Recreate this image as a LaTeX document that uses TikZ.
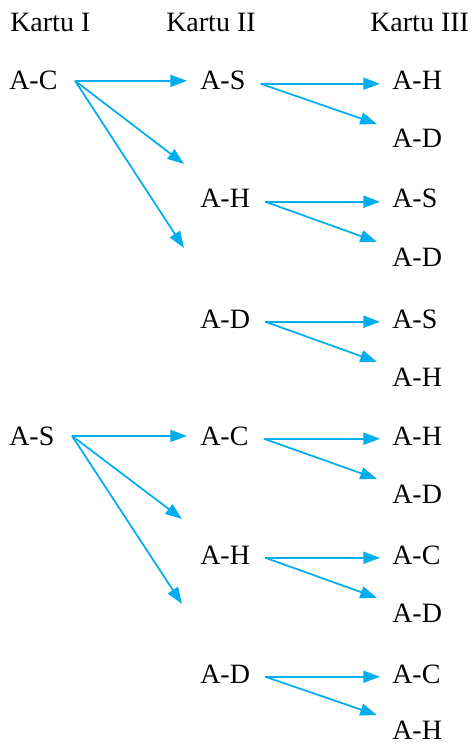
\documentclass[tikz,border=0pt]{standalone}
\usepackage{fontspec}
\setmainfont{Liberation Serif}
\newfontfamily\cardfont{Liberation Serif}
\usetikzlibrary{arrows.meta}
\definecolor{kartublue}{RGB}{0,174,239}

\begin{document}
\begin{tikzpicture}[x=0.75pt, y=-0.75pt, >={Triangle[length=12.5pt,width=9pt]}]
% --- Global Styles ---
\tikzstyle{card} = [anchor=base west, inner sep=0pt, font=\cardfont\fontsize{21}{25}\selectfont]
\tikzstyle{cardlow} = [card, text depth=4.5pt]
\tikzstyle{branch} = [->, kartublue, line width=1.3pt]

\useasboundingbox (0,0) rectangle (475,745);

% --- Column X-coordinates ---
\def\xa{9}     % Kartu I
\def\xb{200}   % Kartu II
\def\xc{392}   % Kartu III

% ==========================================
% HEADERS
% ==========================================
\node[card] (h1) at (10,32) {Kartu I};
\node[card] (h2) at (166,32) {Kartu II};
\node[card] (h3) at (370,32) {Kartu III};

% ==========================================
% KARTU I
% ==========================================
\node[card] (a1) at (\xa,90) {A-C};
\node[card] (a2) at (\xa,445) {A-S};

% ==========================================
% KARTU II
% ==========================================
\node[cardlow] (b1) at (\xb,90) {A-S};
\node[cardlow] (b2) at (\xb,208) {A-H};
\node[cardlow] (b3) at (\xb,328) {A-D};
\node[cardlow] (b4) at (\xb,445) {A-C};
\node[cardlow] (b5) at (\xb,564) {A-H};
\node[cardlow] (b6) at (\xb,683) {A-D};

% ==========================================
% KARTU III
% ==========================================
\node[cardlow] (c1) at (\xc,90) {A-H};
\node[cardlow] (c2) at (\xc,148) {A-D};
\node[cardlow] (c3) at (\xc,208) {A-S};
\node[cardlow] (c4) at (\xc,266) {A-D};
\node[cardlow] (c5) at (\xc,328) {A-S};
\node[cardlow] (c6) at (\xc,386) {A-H};
\node[cardlow] (c7) at (\xc,445) {A-H};
\node[cardlow] (c8) at (\xc,503) {A-D};
\node[cardlow] (c9) at (\xc,564) {A-C};
\node[cardlow] (c10) at (\xc,622) {A-D};
\node[cardlow] (c11) at (\xc,683) {A-C};
\node[card] (c12) at (\xc,739) {A-H};

% --- Branch start points ---
\coordinate (a1o) at ([xshift=13pt]a1.east);
\coordinate (a2o) at ([xshift=13pt]a2.east);
\coordinate (b1o) at ([xshift=11.25pt]b1.east);
\coordinate (b2o) at ([xshift=11.25pt]b2.east);
\coordinate (b3o) at ([xshift=11.25pt]b3.east);
\coordinate (b4o) at ([xshift=11.25pt]b4.east);
\coordinate (b5o) at ([xshift=11.25pt]b5.east);
\coordinate (b6o) at ([xshift=11.25pt]b6.east);

% --- Free ends of the Kartu I branches ---
\coordinate (a1e1) at (184,164);
\coordinate (a1e2) at (184,248);
\coordinate (a2e1) at (182,519);
\coordinate (a2e2) at (182,604);

% ==========================================
% BRANCHES: KARTU I -> KARTU II
% ==========================================
\draw[branch, shorten >=9.75pt] (a1o) -- (a1o -| b1.west);
\draw[branch] (a1o) -- (a1e1);
\draw[branch] (a1o) -- (a1e2);

\draw[branch, shorten >=9.75pt] (a2o) -- (a2o -| b4.west);
\draw[branch] (a2o) -- (a2e1);
\draw[branch] (a2o) -- (a2e2);

% ==========================================
% BRANCHES: KARTU II -> KARTU III
% ==========================================
\draw[branch, shorten >=9pt] (b1o) -- (b1o -| c1.west);
\draw[branch, shorten >=12pt] (b1o) -- (c2.north west);

\draw[branch, shorten >=9pt] (b2o) -- (b2o -| c3.west);
\draw[branch, shorten >=12pt] (b2o) -- (c4.north west);

\draw[branch, shorten >=9pt] (b3o) -- (b3o -| c5.west);
\draw[branch, shorten >=12pt] (b3o) -- (c6.north west);

\draw[branch, shorten >=9pt] (b4o) -- (b4o -| c7.west);
\draw[branch, shorten >=12pt] (b4o) -- (c8.north west);

\draw[branch, shorten >=9pt] (b5o) -- (b5o -| c9.west);
\draw[branch, shorten >=12pt] (b5o) -- (c10.north west);

\draw[branch, shorten >=9pt] (b6o) -- (b6o -| c11.west);
\draw[branch, shorten >=12pt] (b6o) -- (c12.north west);

\end{tikzpicture}
\end{document}
